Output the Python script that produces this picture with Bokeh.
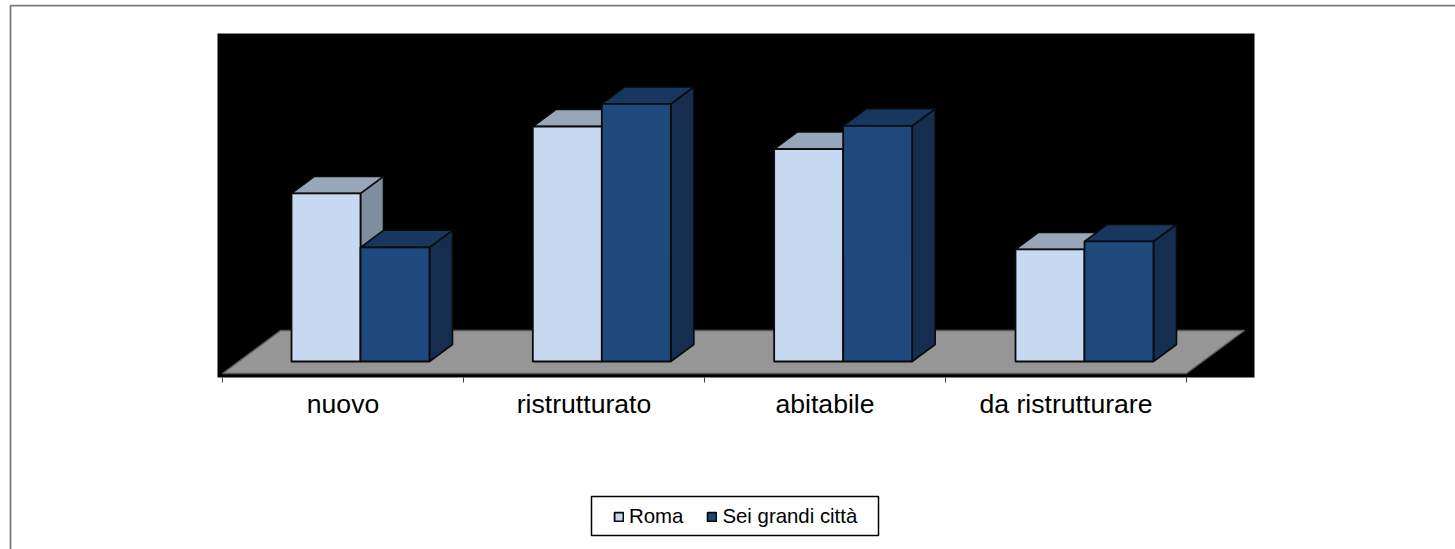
from bokeh.plotting import figure
from bokeh.embed import file_html
from bokeh.resources import INLINE
from bokeh.models import Legend, LegendItem
from bokeh.core.properties import value

categories = ["nuovo", "ristrutturato", "abitabile", "da ristrutturare"]
roma = [23.1, 32.3, 29.2, 15.4]
sei_citta = [15.7, 35.4, 32.4, 16.5]
series_names = ["Roma", "Sei grandi città"]

W, H = 1455, 549
X0, Y0 = 222.0, 361.0   # page position of the origin
PX_X, PX_Y = 241.0, 7.275   # pixels per category, pixels per percentage point

def ux(px):
    return (px - X0) / PX_X

def uy(py):
    return (Y0 - py) / PX_Y

DX, DY = 23 / PX_X, 17 / PX_Y    # depth of a bar
BAR = 69 / PX_X
START = 69 / PX_X
PITCH = 241.33 / PX_X
n = len(categories)

p = figure(width=W, height=H, output_backend="svg", toolbar_location=None,
           x_range=(ux(0), ux(W)), y_range=(uy(H), uy(0)),
           min_border=0, background_fill_color="white", border_fill_color="white",
           outline_line_color=None, x_axis_type=None, y_axis_type=None)
p.grid.visible = False

# outer frame: top and left edges only, as in the picture
p.line([ux(10), ux(10), ux(W)], [uy(H), uy(5.2), uy(5.2)], line_color="#7a7a7a", line_width=1.8)

# black plot area
p.quad(left=ux(217), right=ux(1254), bottom=uy(377), top=uy(33), fill_color="black", line_color=None)

# floor
FY0, FY1, FDX = uy(373), uy(330), 58 / PX_X
p.patch([0, n, n + FDX, FDX], [FY0, FY0, FY1, FY1], fill_color="#969696",
        line_color="#5a5a5a", line_width=1.5)

# ticks and category labels
ticks = list(range(n + 1))
p.segment(ticks, [uy(377)] * (n + 1), ticks, [uy(382)] * (n + 1), line_color="#404040", line_width=1)
p.text([i + 0.5 for i in range(n)], [uy(403.5)] * n, text=categories,
       text_font=value("Liberation Sans"), text_font_size="26.6px", text_color="black",
       text_align="center", text_baseline="alphabetic")

def bars(values, start, front, top, side):
    xs_top, ys_top, xs_side, ys_side = [], [], [], []
    lefts = [i * PITCH + start for i in range(n)]
    for l, v in zip(lefts, values):
        xs_top.append([l, l + BAR, l + BAR + DX, l + DX])
        ys_top.append([v, v, v + DY, v + DY])
        xs_side.append([l + BAR, l + BAR + DX, l + BAR + DX, l + BAR])
        ys_side.append([0, DY, v + DY, v])
    p.patches(xs_side, ys_side, fill_color=side, line_color="#0a0a0a", line_width=1.6)
    p.patches(xs_top, ys_top, fill_color=top, line_color="#0a0a0a", line_width=1.6)
    return p.vbar(x=[l + BAR / 2 for l in lefts], width=BAR, bottom=0, top=values,
                  fill_color=front, line_color="#0a0a0a", line_width=1.8)

r1 = bars(roma, START, "#C6D9F1", "#98A6B9", "#7F8E9E")
r2 = bars(sei_citta, START + BAR, "#1F497D", "#17375E", "#152E50")

# legend box, with the library's legend on top of it
p.quad(left=ux(591), right=ux(878), bottom=uy(535), top=uy(496), fill_color="white",
       line_color="black", line_width=1.5)
legend = Legend(items=[LegendItem(label=series_names[0], renderers=[r1]),
                       LegendItem(label=series_names[1], renderers=[r2])],
                orientation="horizontal", location=(613, 21),
                label_text_font="Liberation Sans", label_text_font_size="20.4px",
                label_text_color="black", glyph_width=11, glyph_height=11,
                label_standoff=5, spacing=23, padding=8, margin=0,
                border_line_color=None, background_fill_alpha=0)
p.add_layout(legend)

open("out.html", "w").write(file_html(p, INLINE))
